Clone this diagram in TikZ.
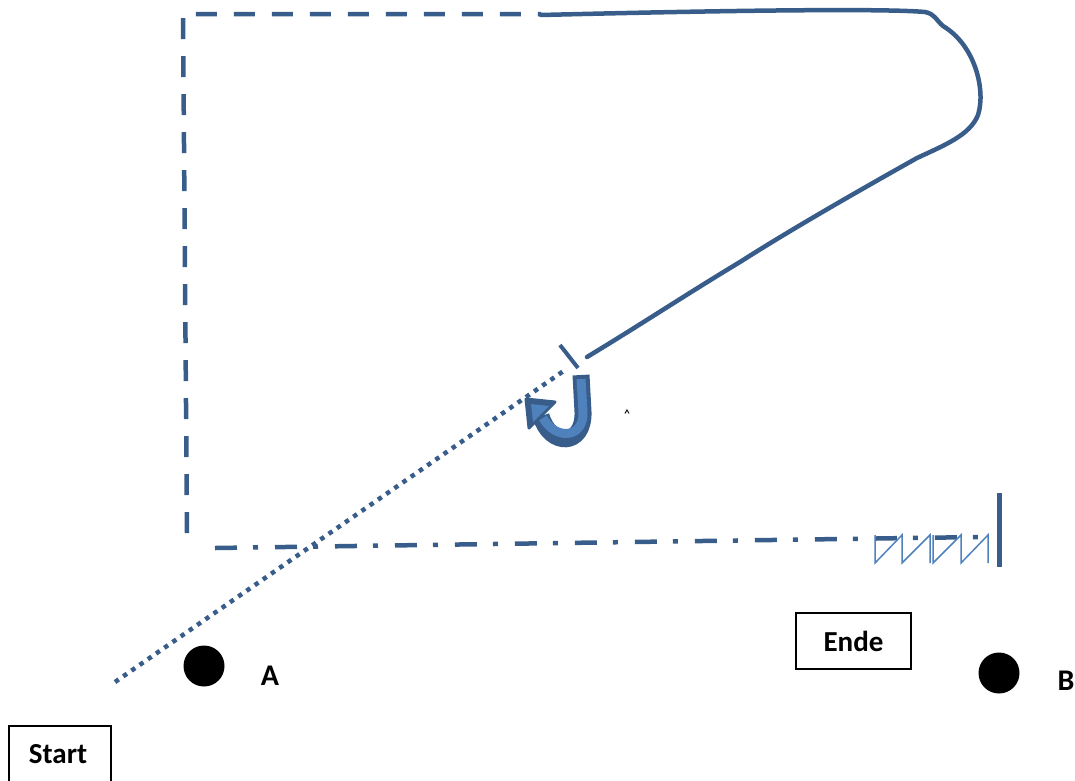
\documentclass[tikz,border=0pt]{standalone}
\usepackage{fontspec}
\setmainfont{Carlito}
\definecolor{lineblue}{RGB}{56,93,138}
\definecolor{fillblue}{RGB}{79,129,189}
\begin{document}
\begin{tikzpicture}[x=1pt,y=-1pt,
  bline/.style={draw=lineblue, line width=4.5},
  dashline/.style={bline, dash pattern=on 21 off 17},
  dashdotline/.style={bline, dash pattern=on 22 off 16 on 5 off 17},
  dotline/.style={bline, line width=4.5, dash pattern=on 4.5 off 5.5},
  zig/.style={draw=fillblue, line width=1.5, line join=miter},
  dot/.style={circle, fill=black, inner sep=0, minimum width=38, minimum height=41},
  lbl/.style={font=\bfseries\fontsize{30}{34}\selectfont, inner sep=0},
  tbox/.style={draw=black, line width=1.6, inner sep=0, font=\bfseries\fontsize{29}{32}\selectfont}]
\useasboundingbox (0,0) rectangle (1075,780);

% dashed frame (left and top)
\coordinate (ftl) at (183,14);
\coordinate (ftr) at (541,14);
\coordinate (fbl) at (187,533);
\draw[dashline] (fbl) -- (ftl) -- (ftr);

% solid freehand line
\coordinate (s0) at (541,15);
\coordinate (s1) at (587,357);
\draw[bline, line cap=round] (s0) .. controls (700,11) and (880,8) .. (925,12)
  .. controls (935,14) and (936,20) .. (943,26)
  .. controls (975,45) and (986,90) .. (978,115)
  .. controls (970,135) and (945,145) .. (917,158)
  .. controls (860,190) and (790,230) .. (740,262)
  .. controls (690,292) and (640,325) .. (s1);

% short stroke near arrow
\coordinate (k0) at (560,345);
\coordinate (k1) at (578,368);
\draw[bline, line width=4] (k0) -- (k1);

% curved U-turn arrow
\coordinate (u0) at (581,375);
\coordinate (uh) at (541,416);
\draw[draw=lineblue, line width=17] (u0) -- (583,412) .. controls (584,447) and (550,447) .. (uh);
\draw[draw=lineblue, fill=lineblue, line width=3, line join=round] (526,399) -- (555,402) -- (529,428) -- cycle;
\draw[draw=fillblue, line width=9] (581,379) -- (583,412) .. controls (584,439) and (555,440) .. (543,418);
\fill[fillblue] (531,404) -- (549,406) -- (533,422) -- cycle;
\node[font=\bfseries\fontsize{11}{11}\selectfont, inner sep=0] (caret) at (627,414) {\textasciicircum};

% dotted line
\coordinate (d0) at (115,682);
\coordinate (d1) at (565,370);
\draw[dotline] (d0) -- (d1);

% dash-dot line
\coordinate (h0) at (215,548);
\coordinate (h1) at (980,537);
\draw[dashdotline] (h0) -- (h1);

% zigzag spring
\draw[zig] (875,535) -- (875,563) -- (902,535) -- (902,563) -- (930,535) -- (930,563);
\draw[zig] (933,535) -- (933,563) -- (961,535) -- (961,563) -- (988,535) -- (988,563);

% end bar
\coordinate (v0) at (999,493);
\coordinate (v1) at (999,567);
\draw[bline, line width=5] (v0) -- (v1);

% points
\node[dot] (A) at (204,666) {};
\node[lbl] (Alab) at (270,676) {A};
\node[dot] (B) at (999,673) {};
\node[lbl] (Blab) at (1066,681) {B};

% boxes
\node[tbox, minimum width=102, minimum height=70, anchor=north west] (startbox) at (8,725) {};
\node[font=\bfseries\fontsize{29}{32}\selectfont, inner sep=0] (start) at (58,754) {Start};
\node[tbox, minimum width=115, minimum height=56] (ende) at (853.5,641) {Ende};
\end{tikzpicture}
\end{document}
